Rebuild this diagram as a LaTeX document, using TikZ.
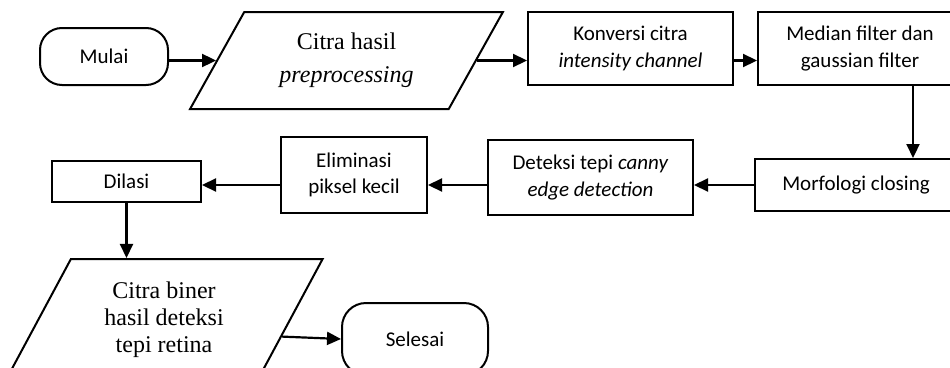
\documentclass[tikz,border=0pt]{standalone}
\usepackage{fontspec}
\setmainfont{Liberation Serif}
\setsansfont{Carlito}
\usetikzlibrary{arrows.meta}
\usetikzlibrary{shapes.geometric}

\begin{document}
\begin{tikzpicture}[x=1pt,y=-1pt,>={Triangle[length=14pt,width=13pt]},
  box/.style={draw,line width=2pt,font=\sffamily\fontsize{21}{26.5}\selectfont,align=center,inner sep=0pt},
  term/.style={box,rounded corners=22pt},
  io/.style={draw,line width=2pt,trapezium,trapezium stretches=true,font=\rmfamily\fontsize{24}{27}\selectfont,align=center,inner sep=0pt},
  flow/.style={->,line width=2.2pt}]
\useasboundingbox (0,0) rectangle (950,367);
\clip (0,0) rectangle (950,367);

\node[term,minimum width=128pt,minimum height=57pt] (mulai) at (104,56.5) {Mulai};
\node[io,trapezium left angle=57,trapezium right angle=123,minimum width=313pt,minimum height=97pt] (citra) at (346.5,60.5) {Citra hasil\\[6pt]\textit{preprocessing}};
\node[box,minimum width=205pt,minimum height=73pt] (konversi) at (630.5,48.5) {Konversi citra\\\textit{intensity channel}};
\node[box,minimum width=204pt,minimum height=73pt] (median) at (860,48.5) {Median filter dan\\gaussian filter};
\node[box,minimum width=202pt,minimum height=52pt] (morfologi) at (856,185) {Morfologi closing};
\node[box,minimum width=205pt,minimum height=75pt] (canny) at (590.5,177.5) {Deteksi tepi \textit{canny}\\\textit{edge detection}};
\node[box,minimum width=146pt,minimum height=76pt] (eliminasi) at (354,175) {Eliminasi\\piksel kecil};
\node[box,minimum width=149pt,minimum height=41pt] (dilasi) at (126.5,181.5) {Dilasi};
\node[io,trapezium left angle=61,trapezium right angle=119,minimum width=317.6pt,minimum height=122pt] (biner) at (164,320) {Citra biner\\hasil deteksi\\tepi retina};
\node[term,rounded corners=24pt,minimum width=146pt,minimum height=72pt] (selesai) at (415,339) {Selesai};

% alur
\draw[flow] (mulai.east |- citra.west) -- (citra.west);
\draw[flow] (citra.east) -- (citra.east -| konversi.west);
\draw[flow] (konversi.east |- citra.east) -- (median.west |- citra.east);
\draw[flow] ([xshift=53pt]median.south) -- ([xshift=53pt]median.south |- morfologi.north);
\draw[flow] (morfologi.west) -- (canny.east |- morfologi.west);
\draw[flow] (canny.west |- morfologi.west) -- (eliminasi.east |- morfologi.west);
\draw[flow] (eliminasi.west |- morfologi.west) -- (dilasi.east |- morfologi.west);
\draw[flow] (dilasi.south) -- (dilasi.south |- biner.north);
\draw[flow] (biner.-8) -- (selesai.west);

\end{tikzpicture}
\end{document}
